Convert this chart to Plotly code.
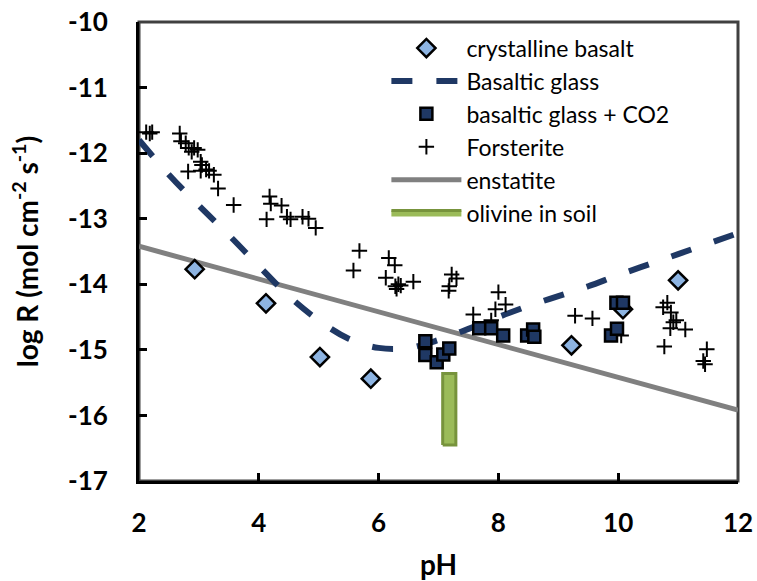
import plotly.graph_objects as go

# ---- data ----
ph_cryst = [2.93, 4.12, 5.02, 5.87, 9.22, 10.08, 11.0]
logr_cryst = [-13.77, -14.29, -15.11, -15.44, -14.93, -14.38, -13.94]

ph_glass = [2.0, 2.5, 3.0, 3.5, 4.0, 4.5, 5.0, 5.5, 6.0, 6.5, 7.0, 7.5, 8.0,
            8.5, 9.0, 9.5, 10.0, 10.5, 11.0, 11.5, 12.0]
logr_glass = [-11.8, -12.33, -12.8, -13.25, -13.72, -14.18, -14.55, -14.83,
              -14.97, -14.97, -14.85, -14.68, -14.5, -14.33, -14.18, -14.03,
              -13.86, -13.7, -13.54, -13.38, -13.22]

ph_co2 = [6.78, 6.78, 6.97, 7.08, 7.18, 7.68, 7.88, 8.08, 8.48, 8.58, 8.6,
          9.88, 9.98, 9.97, 10.08]
logr_co2 = [-14.87, -15.08, -15.19, -15.07, -14.98, -14.67, -14.67, -14.78,
            -14.78, -14.69, -14.8, -14.78, -14.68, -14.28, -14.28]

ph_fo = [2.12, 2.18, 2.22, 2.68, 2.7, 2.78, 2.83, 2.92, 2.88, 2.98, 3.03, 3.05,
         3.03, 2.82, 3.12, 3.17, 3.25, 3.32, 3.58, 4.18, 4.2, 4.38, 4.13, 4.47,
         4.53, 4.73, 4.83, 4.95, 5.68, 5.58, 6.17, 6.27, 6.12, 6.28, 6.33, 6.37,
         6.3, 6.58, 7.22, 7.3, 7.18, 7.17, 8.0, 7.95, 8.12, 7.58, 7.88, 9.28,
         9.57, 10.05, 10.82, 10.75, 10.88, 10.97, 10.92, 10.87, 11.12, 10.77,
         11.48, 11.42, 11.45]
logr_fo = [-11.68, -11.7, -11.68, -11.7, -11.82, -11.85, -11.92, -11.92, -11.98,
           -11.95, -12.13, -12.18, -12.27, -12.28, -12.25, -12.27, -12.33,
           -12.54, -12.79, -12.66, -12.77, -12.8, -13.01, -12.97, -13.01,
           -12.97, -13.0, -13.14, -13.49, -13.79, -13.6, -13.71, -13.9, -14.03,
           -14.0, -14.02, -14.07, -13.96, -13.85, -13.91, -14.03, -14.1, -14.12,
           -14.38, -14.31, -14.46, -14.55, -14.48, -14.52, -14.78, -14.28,
           -14.35, -14.43, -14.55, -14.58, -14.67, -14.69, -14.95, -14.99,
           -15.17, -15.22]

ph_enst = [2.0, 12.0]
logr_enst = [-13.42, -15.92]

olivine_ph = 7.18
olivine_halfwidth = 0.11
olivine_logr = [-16.45, -15.36]

x_ticks = [2, 4, 6, 8, 10, 12]
y_ticks = [-10, -11, -12, -13, -14, -15, -16, -17]
x_ticktext = ["2", "4", "6", "8", "10", "12"]
y_ticktext = ["-10", "-11", "-12", "-13", "-14", "-15", "-16", "-17"]

# ---- figure ----
NAVY = "#1F3864"
fig = go.Figure()

ox0 = olivine_ph - olivine_halfwidth
ox1 = olivine_ph + olivine_halfwidth
fig.add_trace(go.Scatter(
    x=[ox0, ox1, ox1, ox0, ox0],
    y=[olivine_logr[0], olivine_logr[0], olivine_logr[1], olivine_logr[1], olivine_logr[0]],
    mode="lines", fill="toself", fillcolor="#9BBB59",
    line=dict(color="#77933C", width=3),
    name="olivine in soil", legendrank=6))

fig.add_trace(go.Scatter(
    x=ph_enst, y=logr_enst, mode="lines", name="enstatite",
    line=dict(color="#808080", width=5), legendrank=5))

fig.add_trace(go.Scatter(
    x=ph_glass, y=logr_glass, mode="lines", name="Basaltic glass",
    line=dict(color=NAVY, width=6, dash="21px,24px", shape="spline"),
    legendrank=2))

fig.add_trace(go.Scatter(
    x=ph_fo, y=logr_fo, mode="markers", name="Forsterite",
    marker=dict(symbol="cross-thin", size=11, line=dict(color="black", width=2)),
    legendrank=4))

fig.add_trace(go.Scatter(
    x=ph_cryst, y=logr_cryst, mode="markers", name="crystalline basalt",
    marker=dict(symbol="diamond", size=14, color="#8DB4E2",
                line=dict(color="black", width=2.5)),
    legendrank=1))

fig.add_trace(go.Scatter(
    x=ph_co2, y=logr_co2, mode="markers", name="basaltic glass + CO2",
    marker=dict(symbol="square", size=12, color=NAVY,
                line=dict(color="black", width=2.5)),
    legendrank=3))

fig.add_shape(type="rect", xref="paper", yref="paper", x0=0, y0=0, x1=1, y1=1,
              line=dict(color="#404040", width=3), layer="below")

fig.update_layout(
    width=757, height=581,
    margin=dict(l=139, r=19, t=22, b=100),
    paper_bgcolor="white", plot_bgcolor="white",
    font=dict(family="Lato", color="black"),
    legend=dict(x=0.413, y=0.99, xanchor="left", yanchor="top",
                bgcolor="rgba(0,0,0,0)", font=dict(size=23, family="Lato"),
                itemwidth=70),
    xaxis=dict(range=[2, 12], tickvals=x_ticks, ticktext=x_ticktext,
               ticks="inside", ticklen=8, automargin=False,
               ticklabeloverflow="allow",
               tickwidth=3, tickcolor="black", showline=True, linewidth=3,
               linecolor="black", showgrid=False, zeroline=False,
               tickfont=dict(size=26, family="Lato", weight="bold"),
               ticklabelstandoff=17,
               title=dict(text="<b>pH</b>", font=dict(size=28, family="Lato"), standoff=21)),
    yaxis=dict(range=[-17, -10], tickvals=y_ticks, ticktext=y_ticktext,
               ticks="inside", ticklen=8, automargin=False,
               ticklabeloverflow="allow",
               tickwidth=3, tickcolor="black", showline=True, linewidth=3,
               linecolor="black", showgrid=False, zeroline=False,
               tickfont=dict(size=26, family="Lato", weight="bold"),
               ticklabelstandoff=23,
               title=dict(text="<b>log R (mol cm<sup>-2</sup> s<sup>-1</sup>)</b>",
                          font=dict(size=28, family="Lato"), standoff=22)),
)

fig.write_html("out.html", config={"displayModeBar": False},
               post_script="document.body.style.margin='0';document.body.style.overflow='hidden';")
